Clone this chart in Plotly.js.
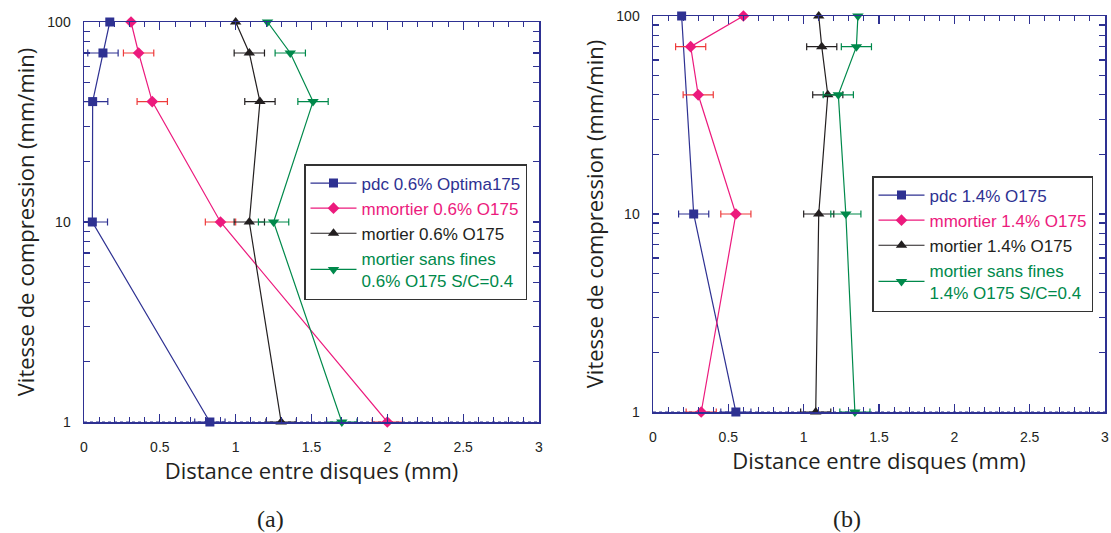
<!DOCTYPE html>
<html><head><meta charset="utf-8">
<script src="https://cdn.plot.ly/plotly-3.0.1.min.js"></script>
<style>html,body{margin:0;padding:0;background:#fff}</style>
</head><body><div id="chart" style="width:1111px;height:533px"></div>
<script>
// Compression speeds (mm/min)
const speeds = [100, 70, 40, 10, 1];
const speedsPdcB = [100, 10, 1];

// (a) 0.6 % fibres — distance between discs (mm)
const a_pdc = [0.17, 0.125, 0.057, 0.055, 0.83];
const a_mmortier = [0.31, 0.36, 0.45, 0.90, 2.0];
const a_mortier = [1.0, 1.09, 1.16, 1.09, 1.30];
const a_sansfines = [1.21, 1.36, 1.51, 1.25, 1.70];
const a_err = [0, 0.1, 0.1, 0.1, 0.1];

// (b) 1.4 % fibres
const b_pdc = [0.19, 0.27, 0.55];
const b_pdc_err = [0, 0.1, 0.1];
const b_mmortier = [0.60, 0.25, 0.30, 0.55, 0.32];
const b_mortier = [1.10, 1.12, 1.16, 1.10, 1.08];
const b_sansfines = [1.36, 1.35, 1.23, 1.28, 1.34];
const b_err = [0, 0.1, 0.1, 0.1, 0.1];

const names_a = ['pdc 0.6% Optima175', 'mmortier 0.6% O175', 'mortier 0.6% O175', 'mortier sans fines<br>0.6% O175 S/C=0.4'];
const names_b = ['pdc 1.4% O175', 'mmortier 1.4% O175', 'mortier 1.4% O175', 'mortier sans fines<br>1.4% O175 S/C=0.4'];

const yTickVals = [1,2,3,4,5,6,7,8,9,10,20,30,40,50,60,70,80,90,100];
const yTickText = ['1','','','','','','','','','10','','','','','','','','','100'];
const xTitle = 'Distance entre disques (mm)';
const yTitle = 'Vitesse de compression (mm/min)';

const BLUE = '#2e3192', PINK = '#ec1a7d', RED = '#ee3b3b', BLACK = '#231f20', GREEN = '#00894b';
const series = [
  {color: BLUE, err: BLUE, symbol: 'square', size: 9},
  {color: PINK, err: RED, symbol: 'diamond', size: 9},
  {color: BLACK, err: BLACK, symbol: 'triangle-up', size: 10},
  {color: GREEN, err: GREEN, symbol: 'triangle-down', size: 10}
];

function tr(x, y, err, i, name, xa, ya, leg) {
  const s = series[i];
  return {
    type: 'scatter', mode: 'lines+markers', x: x, y: y,
    xaxis: xa, yaxis: ya, legend: leg,
    name: '<span style="color:' + s.color + '">' + name + '</span>',
    line: {color: s.color, width: 1.2},
    marker: {color: s.color, symbol: s.symbol, size: s.size},
    error_x: {type: 'data', array: err, visible: true, color: s.err, thickness: 1.2, width: 3.5},
    cliponaxis: false
  };
}

const data = [
  tr(a_pdc, speeds, a_err, 0, names_a[0], 'x', 'y', 'legend'),
  tr(a_mmortier, speeds, a_err, 1, names_a[1], 'x', 'y', 'legend'),
  tr(a_mortier, speeds, a_err, 2, names_a[2], 'x', 'y', 'legend'),
  tr(a_sansfines, speeds, a_err, 3, names_a[3], 'x', 'y', 'legend'),
  tr(b_pdc, speedsPdcB, b_pdc_err, 0, names_b[0], 'x2', 'y2', 'legend2'),
  tr(b_mmortier, speeds, b_err, 1, names_b[1], 'x2', 'y2', 'legend2'),
  tr(b_mortier, speeds, b_err, 2, names_b[2], 'x2', 'y2', 'legend2'),
  tr(b_sansfines, speeds, b_err, 3, names_b[3], 'x2', 'y2', 'legend2')
];

const tickFont = {family: '"Liberation Sans", Arial, sans-serif', size: 14, color: '#231f20'};
const titleFont = {family: '"Open Sans", sans-serif', size: 22, color: '#231f20'};

function xAxis(domain, anchor) {
  return {
    domain: domain, anchor: anchor, range: [0, 3], dtick: 0.5, tick0: 0,
    ticks: 'inside', ticklen: 8, tickcolor: BLUE, tickwidth: 1.2,
    minor: {dtick: 0.1, ticks: 'inside', ticklen: 5, tickcolor: BLUE, tickwidth: 1},
    showline: true, linecolor: BLUE, linewidth: 1.5, mirror: 'ticks',
    showgrid: false, zeroline: false, tickfont: tickFont, ticklabelstandoff: 12,
    title: {text: xTitle, font: titleFont, standoff: 8}
  };
}
function yAxis(domain, anchor) {
  return {
    domain: domain, anchor: anchor, type: 'log', range: [0, 2],
    tickmode: 'array', tickvals: yTickVals, ticktext: yTickText,
    ticks: 'inside', ticklen: 6, tickcolor: BLUE, tickwidth: 1.2,
    showline: true, linecolor: BLUE, linewidth: 1.5, mirror: 'ticks',
    showgrid: false, zeroline: false, tickfont: tickFont, ticklabelstandoff: 9,
    title: {text: yTitle, font: titleFont, standoff: 6}
  };
}

const legendBase = {
  bgcolor: '#ffffff', bordercolor: '#333333', borderwidth: 1.5,
  font: {family: '"Liberation Sans", Arial, sans-serif', size: 17, color: '#231f20'},
  xanchor: 'left', yanchor: 'top', tracegroupgap: 0, itemwidth: 46
};

const captionFont = {family: '"Liberation Serif", "Times New Roman", serif', size: 24, color: '#231f20'};

const layout = {
  width: 1111, height: 533,
  margin: {l: 0, r: 0, t: 0, b: 0},
  paper_bgcolor: '#ffffff', plot_bgcolor: '#ffffff',
  showlegend: true,
  xaxis: xAxis([84/1111, 539/1111], 'y'),
  yaxis: yAxis([1 - 422/533, 1 - 22/533], 'x'),
  xaxis2: xAxis([653/1111, 1105/1111], 'y2'),
  yaxis2: yAxis([1 - 412/533, 1 - 16/533], 'x2'),
  legend: Object.assign({}, legendBase, {x: 304/1111, y: 1 - 164/533}),
  legend2: Object.assign({}, legendBase, {x: 872/1111, y: 1 - 176/533}),
  shapes: [
    {type: 'line', xref: 'x', yref: 'y', x0: 0, x1: 3, y0: 1, y1: 1, layer: 'below',
     line: {color: BLUE, width: 1, dash: 'dot'}},
    {type: 'line', xref: 'x2', yref: 'y2', x0: 0, x1: 3, y0: 1, y1: 1, layer: 'below',
     line: {color: BLUE, width: 1, dash: 'dot'}}
  ],
  annotations: [
    {text: '(a)', xref: 'paper', yref: 'paper', x: 270/1111, y: 1 - 519/533, showarrow: false,
     xanchor: 'center', yanchor: 'middle', font: captionFont},
    {text: '(b)', xref: 'paper', yref: 'paper', x: 847/1111, y: 1 - 519/533, showarrow: false,
     xanchor: 'center', yanchor: 'middle', font: captionFont}
  ]
};

Plotly.newPlot('chart', data, layout, {displayModeBar: false, staticPlot: true});
</script></body></html>
